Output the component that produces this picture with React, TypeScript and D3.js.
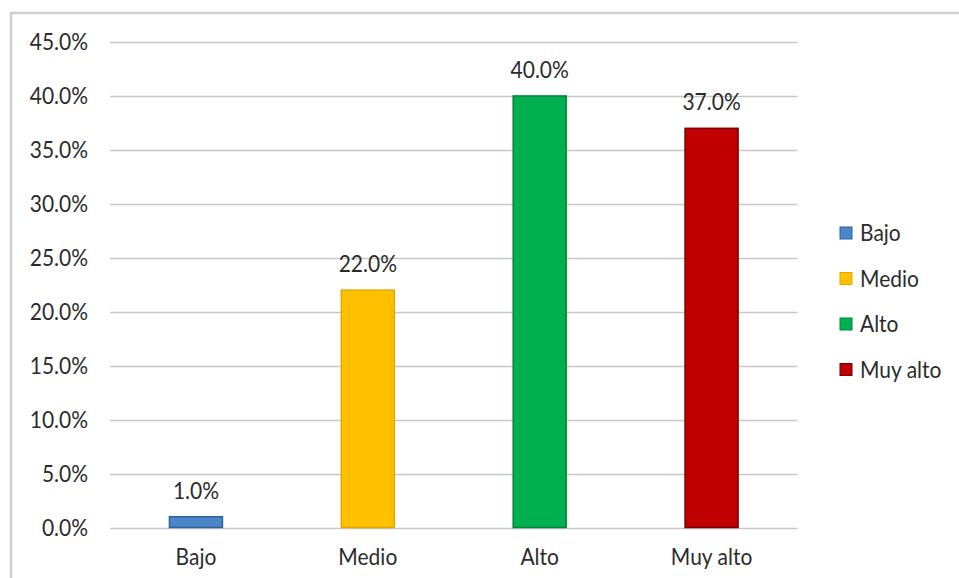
import React from "react";
import * as d3 from "d3";

const categories = ["Bajo", "Medio", "Alto", "Muy alto"];
const values = [1.0, 22.0, 40.0, 37.0];
const yTicks = [0, 5, 10, 15, 20, 25, 30, 35, 40, 45];
const fills = ["#4a86c8", "#ffc000", "#00b050", "#c00000"];
const strokes = ["#2f6296", "#e3a800", "#00853c", "#7a0000"];

const W = 959;
const H = 578;
const FONT = "Lato, 'Open Sans', sans-serif";
const TEXT = "#2b2b2b";
const SY = 1.12;

function T({ x, y, anchor, dy, children }: { x: number; y: number; anchor?: string; dy?: string; children: React.ReactNode }) {
  return (
    <text
      transform={`translate(${x},${y}) scale(1,${SY})`}
      dy={dy}
      textAnchor={anchor || "start"}
      fontFamily={FONT}
      fontSize={21}
      fill={TEXT}
    >
      {children}
    </text>
  );
}

export default function App() {
  const x = d3.scaleBand<string>().domain(categories).range([110, 797.5]).padding(0);
  const y = d3.scaleLinear().domain([0, 45]).range([527.5, 42]);
  const barW = 53;

  return (
    <svg width={W} height={H} style={{ position: "absolute", left: 0, top: 0, background: "#fff" }}>
      <rect x={0} y={0} width={W} height={H} fill="#fff" />
      <path d={`M11,${H} V13 H${W}`} fill="none" stroke="#d0d0d0" strokeWidth={2.5} />
      {yTicks.map((t) => (
        <g key={t}>
          <line x1={110} x2={797.5} y1={Math.round(y(t)) + 0.5} y2={Math.round(y(t)) + 0.5} stroke="#c8c8c8" strokeWidth={1.5} />
          <T x={88} y={y(t)} dy="0.35em" anchor="end">
            {d3.format(".1f")(t) + "%"}
          </T>
        </g>
      ))}
      {categories.map((c, i) => {
        const cx = (x(c) as number) + x.bandwidth() / 2;
        return (
          <g key={c}>
            <rect
              x={cx - barW / 2}
              y={y(values[i])}
              width={barW}
              height={y(0) - y(values[i])}
              fill={fills[i]}
              stroke={strokes[i]}
              strokeWidth={1.5}
            />
            <T x={cx} y={y(values[i]) - 18} anchor="middle">
              {d3.format(".1f")(values[i]) + "%"}
            </T>
            <T x={cx} y={565} anchor="middle">
              {c}
            </T>
          </g>
        );
      })}
      {categories.map((c, i) => {
        const ly = 233 + i * 45.5;
        return (
          <g key={"l" + c}>
            <rect x={840} y={ly - 6} width={12} height={12} fill={fills[i]} stroke={strokes[i]} strokeWidth={1} />
            <T x={860} y={ly} dy="0.35em">
              {c}
            </T>
          </g>
        );
      })}
    </svg>
  );
}
